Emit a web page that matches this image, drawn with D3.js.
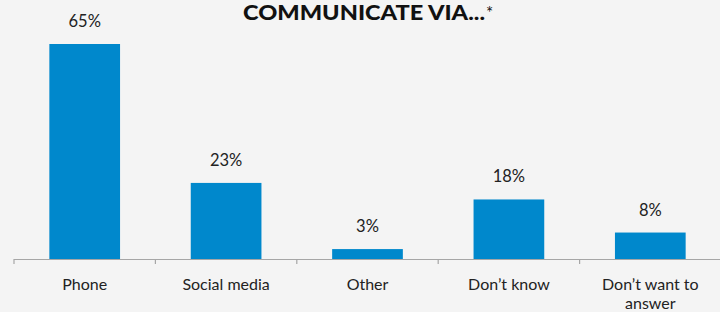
<!DOCTYPE html>
<html>
<head>
<meta charset="utf-8">
<script src="https://cdn.jsdelivr.net/npm/d3@7"></script>
<style>
  html, body { margin: 0; padding: 0; background: #f4f4f4; }
  svg { display: block; font-family: Lato, "Noto Sans", sans-serif; }
</style>
</head>
<body>
<svg width="720" height="312"></svg>
<script>
// Data
var categories = ["Phone", "Social media", "Other", "Don\u2019t know", "Don\u2019t want to|answer"];
var values = [65, 23, 3, 18, 8];
var valueLabels = ["65%", "23%", "3%", "18%", "8%"];

var svg = d3.select("svg");
var width = +svg.attr("width");
var height = +svg.attr("height");

svg.append("rect")
  .attr("width", width)
  .attr("height", height)
  .attr("fill", "#f4f4f4");

// Scales
var x = d3.scaleBand()
  .domain(categories)
  .range([14, 721])
  .paddingInner(0.5)
  .paddingOuter(0.25);

var y = d3.scaleLinear()
  .domain([0, 65])
  .range([259, 44]);

// Title
var title = svg.append("text")
  .attr("x", 243)
  .attr("y", 20)
  .attr("font-size", 21)
  .attr("fill", "#111");
title.append("tspan")
  .attr("font-weight", 900)
  .attr("textLength", 242)
  .attr("lengthAdjust", "spacingAndGlyphs")
  .text("COMMUNICATE VIA...");
title.append("tspan").attr("font-size", 17).attr("dx", 1).attr("dy", -1).text("*");

// Bars
svg.append("g")
  .selectAll("rect")
  .data(values)
  .enter()
  .append("rect")
    .attr("x", function (d, i) { return x(categories[i]); })
    .attr("y", function (d) { return y(d); })
    .attr("width", x.bandwidth())
    .attr("height", function (d) { return y(0) - y(d); })
    .attr("fill", "#0088cc");

// Value labels
svg.append("g")
  .selectAll("text")
  .data(values)
  .enter()
  .append("text")
    .attr("x", function (d, i) { return x(categories[i]) + x.bandwidth() / 2; })
    .attr("y", function (d) { return y(d) - 17; })
    .attr("text-anchor", "middle")
    .attr("font-size", 16.5)
    .attr("fill", "#222")
    .text(function (d, i) { return valueLabels[i]; });

// Axis line + ticks at band edges
var gap = (x.step() - x.bandwidth()) / 2;
var axis = svg.append("g").attr("stroke", "#a6a6a6").attr("stroke-width", 1.2);
axis.append("line")
  .attr("x1", x.range()[0]).attr("x2", x.range()[1])
  .attr("y1", y(0) + 0.5).attr("y2", y(0) + 0.5);
axis.selectAll("line.tick")
  .data(categories)
  .enter()
  .append("line")
    .attr("class", "tick")
    .attr("x1", function (d) { return x(d) - gap; })
    .attr("x2", function (d) { return x(d) - gap; })
    .attr("y1", y(0)).attr("y2", y(0) + 5);

// Category labels
var cat = svg.append("g")
  .selectAll("text")
  .data(categories)
  .enter()
  .append("text")
    .attr("x", function (d) { return x(d) + x.bandwidth() / 2; })
    .attr("y", 290)
    .attr("text-anchor", "middle")
    .attr("font-size", 16)
    .attr("fill", "#222");
cat.each(function (d) {
  var lines = d.split("|");
  var t = d3.select(this);
  lines.forEach(function (l, k) {
    t.append("tspan")
      .attr("x", t.attr("x"))
      .attr("dy", k === 0 ? 0 : 19)
      .text(l);
  });
});
</script>
</body>
</html>
